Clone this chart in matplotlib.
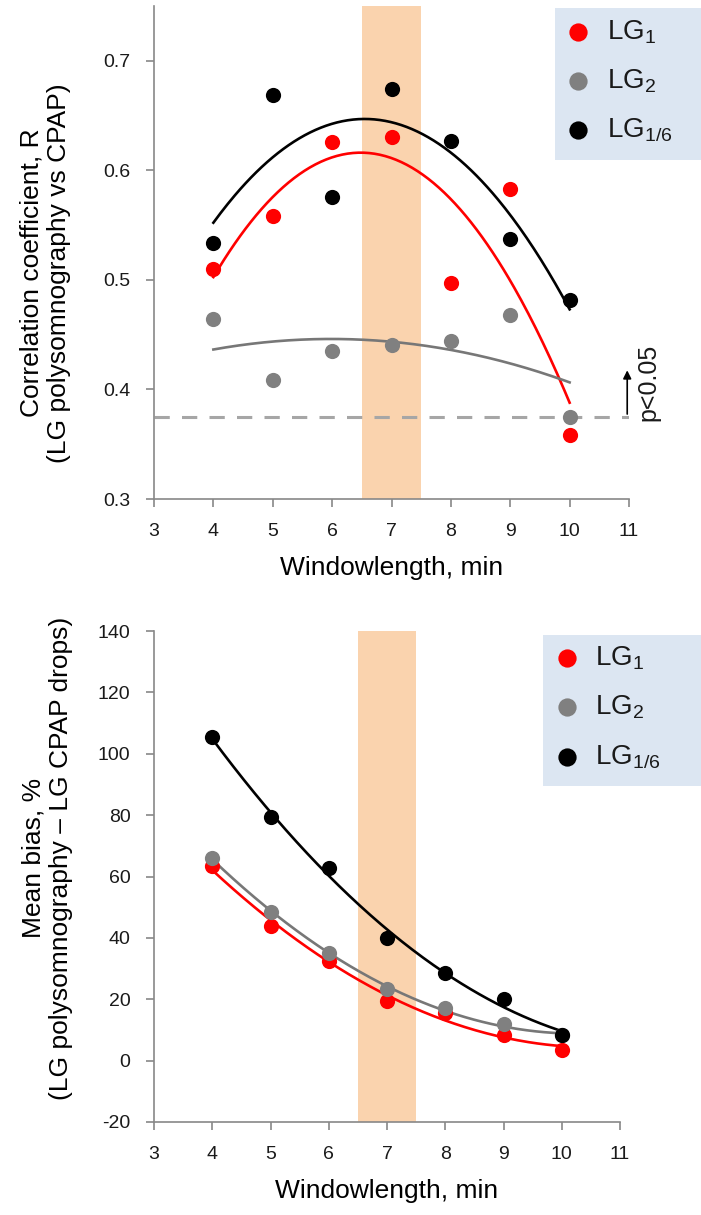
import numpy as np, matplotlib.pyplot as plt
from matplotlib import rcParams
from matplotlib.patches import Rectangle

rcParams['font.family'] = ['Liberation Sans', 'DejaVu Sans']
rcParams['mathtext.fontset'] = 'custom'
rcParams['mathtext.rm'] = 'Liberation Sans'
rcParams['text.color'] = '#1a1a1a'
rcParams['axes.unicode_minus'] = False

# window length, min
window = np.array([4, 5, 6, 7, 8, 9, 10])

# correlation coefficient R (LG polysomnography vs CPAP)
r_lg1 = [0.510, 0.558, 0.626, 0.630, 0.497, 0.583, 0.358]
r_lg2 = [0.464, 0.409, 0.435, 0.441, 0.444, 0.468, 0.375]
r_lg16 = [0.534, 0.669, 0.576, 0.674, 0.627, 0.537, 0.482]
r_sig = 0.375  # p<0.05 threshold

# mean bias, %
b_lg1 = [63.5, 43.8, 32.5, 19.5, 15.5, 8.5, 3.5]
b_lg2 = [66.0, 48.5, 35.0, 23.5, 17.0, 11.8, 8.3]
b_lg16 = [105.5, 79.3, 62.8, 40.0, 28.5, 20.0, 8.3]

labels = ['LG$_\\mathregular{1}$', 'LG$_\\mathregular{2}$', 'LG$_\\mathregular{1/6}$']
colors = ['#ff0000', '#808080', '#000000']
band = (6.5, 7.5)

W, H = 701, 1215
fig = plt.figure(figsize=(W/100, H/100), dpi=100)
ax1 = fig.add_axes([154/W, 1-499/H, 475/W, 493/H])
ax2 = fig.add_axes([154/W, 1-1122/H, 466/W, 491/H])

# legend backgrounds
fig.add_artist(Rectangle((555/W, 1-160/H), 146/W, 152/H, transform=fig.transFigure,
                         facecolor='#dce6f2', edgecolor='none', zorder=-1))
fig.add_artist(Rectangle((543/W, 1-786/H), 158/W, 151/H, transform=fig.transFigure,
                         facecolor='#dce6f2', edgecolor='none', zorder=-1))

xs = np.linspace(4, 10, 200)

def panel(ax, series, ylim, yticks):
    ax.patch.set_alpha(0)
    ax.axvspan(band[0], band[1], color='#fad3ae', lw=0, zorder=0)
    handles = []
    for vals, c in zip(series, colors):
        cf = np.polyfit(window, vals, 2)
        lc = '#777777' if c == '#808080' else c
        ax.plot(xs, np.polyval(cf, xs), color=lc, lw=1.9, zorder=2)
    for vals, c in zip(series, colors):
        h = ax.scatter(window, vals, s=120, color=c, lw=0, zorder=3)
        handles.append(h)
    ax.set_xlim(3, 11)
    ax.set_ylim(*ylim)
    ax.set_xticks(range(3, 12))
    ax.set_yticks(yticks)
    for s in ['top', 'right']:
        ax.spines[s].set_visible(False)
    for s in ['left', 'bottom']:
        ax.spines[s].set_color('#888888')
        ax.spines[s].set_linewidth(1.2)
    ax.tick_params(direction='out', length=6, width=1.2, color='#888888',
                   labelsize=14, pad=11, labelcolor='#1a1a1a')
    ax.set_xlabel('Windowlength, min', fontsize=19, labelpad=12)
    return handles

h1 = panel(ax1, [r_lg1, r_lg2, r_lg16], (0.3, 0.75), [0.3, 0.4, 0.5, 0.6, 0.7])
ax1.set_yticklabels(['0.3', '0.4', '0.5', '0.6', '0.7'])
ax1.axhline(r_sig, color='#a6a6a6', lw=2.2, ls=(0, (5, 4)), zorder=1)
ax1.annotate('', xy=(10.97, 0.42), xytext=(10.97, r_sig),
             arrowprops=dict(arrowstyle='-|>', color='black', lw=1.2, mutation_scale=12),
             annotation_clip=False)
ax1.text(11.33, 0.406, 'p<0.05', rotation=90, ha='center', va='center',
         fontsize=18, clip_on=False)
ax1.set_ylabel('Correlation coefficient, R\n(LG polysomnography vs CPAP)',
               fontsize=19, va='center', linespacing=1.2)
ax1.yaxis.set_label_coords(45/W, 1-273/H, transform=fig.transFigure)
ax1.legend(h1, labels, loc='upper left', bbox_to_anchor=(564/W, 1-18/H),
           bbox_transform=fig.transFigure, frameon=False, fontsize=20,
           handlelength=1, handletextpad=0.55, labelspacing=0.76,
           markerscale=1.2, borderpad=0, borderaxespad=0)

h2 = panel(ax2, [b_lg1, b_lg2, b_lg16], (-20, 140), range(-20, 141, 20))
ax2.set_ylabel('Mean bias, %\n(LG polysomnography \u2013 LG CPAP drops)',
               fontsize=19, va='center', linespacing=1.2)
ax2.yaxis.set_label_coords(47/W, 1-858/H, transform=fig.transFigure)
ax2.legend(h2, labels, loc='upper left', bbox_to_anchor=(553/W, 1-644/H),
           bbox_transform=fig.transFigure, frameon=False, fontsize=20,
           handlelength=1, handletextpad=0.51, labelspacing=0.78,
           markerscale=1.2, borderpad=0, borderaxespad=0)

plt.savefig('out.png', dpi=100, facecolor='white')
